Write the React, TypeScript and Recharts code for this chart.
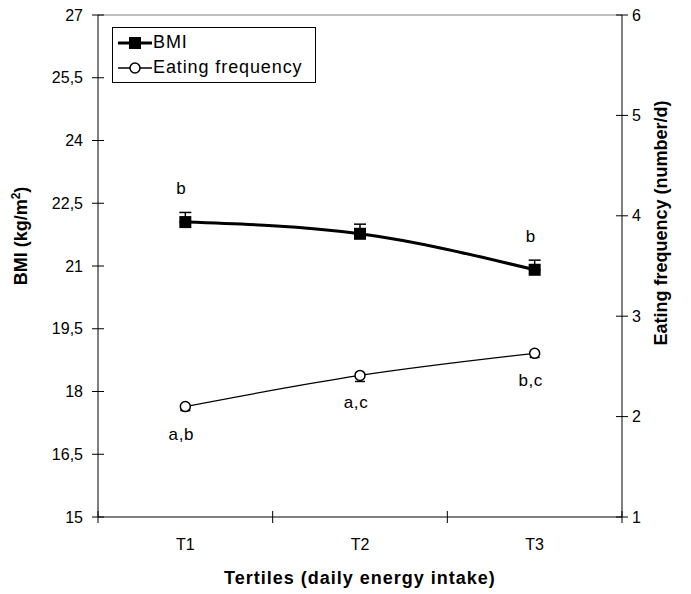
import { LineChart, Line, XAxis, YAxis, ErrorBar, LabelList, Legend, ReferenceLine } from 'recharts'

const FONT = '"Liberation Sans", Arial, Helvetica, sans-serif'

// tertiles of daily energy intake
const tertiles = ['T1', 'T2', 'T3']
const bmi = [22.05, 21.77, 20.91]
const bmiSe = [0.23, 0.23, 0.23]
const eatingFreq = [2.1, 2.41, 2.63]
const eatingFreqSe = [0.04, 0.06, 0.04]
const bmiLetters = ['b', '', 'b']
const efLetters = ['a,b', 'a,c', 'b,c']

const bmiTicks = [15, 16.5, 18, 19.5, 21, 22.5, 24, 25.5, 27]
const efTicks = [1, 2, 3, 4, 5, 6]
const xTicks = [0, 0.5, 1, 1.5, 2, 2.5, 3]

const rows = tertiles.map((t, i) => ({
  pos: i + 0.5,
  tertile: t,
  bmi: bmi[i],
  bmiErr: [0, bmiSe[i]],
  bmiSig: bmiLetters[i],
  ef: eatingFreq[i],
  efErr: [eatingFreqSe[i], 0],
  efSig: efLetters[i],
}))

const txt = { fontFamily: FONT, fontSize: 16, fill: '#000' }

function LeftTick({ x, y, payload }: any) {
  return (
    <g>
      <line x1={x - 6} x2={x + 6} y1={y} y2={y} stroke="#000" />
      <text x={x - 15} y={y} dy="0.35em" textAnchor="end" {...txt}>
        {String(payload.value).replace('.', ',')}
      </text>
    </g>
  )
}

function RightTick({ x, y, payload }: any) {
  return (
    <g>
      <line x1={x - 6} x2={x + 6} y1={y} y2={y} stroke="#000" />
      <text x={x + 10} y={y} dy="0.35em" textAnchor="start" {...txt}>
        {payload.value}
      </text>
    </g>
  )
}

function BottomTick({ x, y, payload }: any) {
  const row = rows.find(r => r.pos === payload.value)
  if (!row) return <line x1={x} x2={x} y1={y - 6} y2={y + 6} stroke="#000" />
  return (
    <text x={x} y={y + 33} textAnchor="middle" {...txt}>{row.tertile}</text>
  )
}

const squareDot = (p: any) => (
  <rect key={p.index} x={p.cx - 6} y={p.cy - 6} width={12} height={12} fill="#000" />
)
const circleDot = (p: any) => (
  <circle key={p.index} cx={p.cx} cy={p.cy} r={5} fill="#fff" stroke="#000" strokeWidth={1.5} />
)

const sigLabel = (dy: number) => (p: any) => {
  const x = p.x ?? p.viewBox?.x
  const y = p.y ?? p.viewBox?.y
  if (!p.value) return null
  return (
    <text key={p.index} x={x - 4} y={y + dy} textAnchor="middle" {...txt} fontSize={17} letterSpacing={0.6}>{p.value}</text>
  )
}

function LegendBox({ payload }: any) {
  return (
    <div style={{ boxSizing: 'border-box', width: 204, border: '1px solid #000', background: '#fff', padding: '2px 4px 2px 5px', fontFamily: FONT, fontSize: 18, letterSpacing: 0.9 }}>
      {(payload || []).map((e: any) => (
        <div key={e.value} style={{ display: 'flex', alignItems: 'center', height: 25 }}>
          <svg width={34} height={14} style={{ marginRight: 1 }}>
            {e.dataKey === 'bmi' ? (
              <>
                <line x1={0} x2={34} y1={7} y2={7} stroke="#000" strokeWidth={3} />
                <rect x={11} y={1} width={12} height={12} fill="#000" />
              </>
            ) : (
              <>
                <line x1={0} x2={34} y1={7} y2={7} stroke="#000" strokeWidth={1.3} />
                <circle cx={17} cy={7} r={5} fill="#fff" stroke="#000" strokeWidth={1.5} />
              </>
            )}
          </svg>
          <span>{e.value}</span>
        </div>
      ))}
    </div>
  )
}

export default function App() {
  return (
    <div style={{ position: 'absolute', left: 0, top: 0, background: '#fff' }}>
      <LineChart width={691} height={594} data={rows} margin={{ top: 15, right: 0, bottom: 0, left: 0 }}>
        <XAxis
          dataKey="pos" type="number" domain={[0, 3]} ticks={xTicks} interval={0}
          height={77} tickSize={0} tickMargin={0} tick={<BottomTick />}
          axisLine={{ stroke: '#000' }} tickLine={false}
          label={{
            content: (p: any) => {
              const vb = p.viewBox
              return (
                <text x={vb.x + vb.width / 2} y={vb.y + 67} textAnchor="middle" {...txt} fontSize={18} fontWeight="bold" letterSpacing={1}>
                  Tertiles (daily energy intake)
                </text>
              )
            },
          }}
        />
        <YAxis
          yAxisId="bmi" domain={[15, 27]} ticks={bmiTicks} interval={0} width={98}
          tickSize={0} tickMargin={0} tick={<LeftTick />} axisLine={{ stroke: '#000' }} tickLine={false}
          label={{
            content: (p: any) => {
              const vb = p.viewBox
              const cx = vb.x + 27
              const cy = vb.y + vb.height / 2 - 30
              return (
                <text x={cx} y={cy} transform={`rotate(-90, ${cx}, ${cy})`} textAnchor="middle" {...txt} fontSize={18} fontWeight="bold">
                  BMI (kg/m<tspan dy={-7} fontSize={12}>2</tspan><tspan dy={7}>)</tspan>
                </text>
              )
            },
          }}
        />
        <YAxis
          yAxisId="ef" orientation="right" domain={[1, 6]} ticks={efTicks} interval={0} width={69}
          tickSize={0} tickMargin={0} tick={<RightTick />} axisLine={{ stroke: '#000' }} tickLine={false}
          label={{
            content: (p: any) => {
              const vb = p.viewBox
              const cx = vb.x + 45
              const cy = vb.y + vb.height / 2 - 43
              return (
                <text x={cx} y={cy} transform={`rotate(-90, ${cx}, ${cy})`} textAnchor="middle" {...txt} fontSize={18} fontWeight="bold">
                  Eating frequency (number/d)
                </text>
              )
            },
          }}
        />
        <ReferenceLine yAxisId="bmi" y={27} stroke="#808080" />
        <Legend
          layout="vertical" align="center" verticalAlign="middle"
          wrapperStyle={{ left: 112, top: 27, width: 'auto' }}
          content={<LegendBox />}
        />
        <Line
          yAxisId="bmi" dataKey="bmi" name="BMI" type="monotone" stroke="#000" strokeWidth={3}
          dot={squareDot} activeDot={false} isAnimationActive={false}
        >
          <ErrorBar dataKey="bmiErr" direction="y" width={6} stroke="#000" strokeWidth={1.5} />
          <LabelList dataKey="bmiSig" content={sigLabel(-28)} />
        </Line>
        <Line
          yAxisId="ef" dataKey="ef" name="Eating frequency" type="monotone" stroke="#000" strokeWidth={1.3}
          dot={circleDot} activeDot={false} isAnimationActive={false}
        >
          <ErrorBar dataKey="efErr" direction="y" width={5} stroke="#000" strokeWidth={1.5} />
          <LabelList dataKey="efSig" content={sigLabel(33)} />
        </Line>
      </LineChart>
    </div>
  )
}
